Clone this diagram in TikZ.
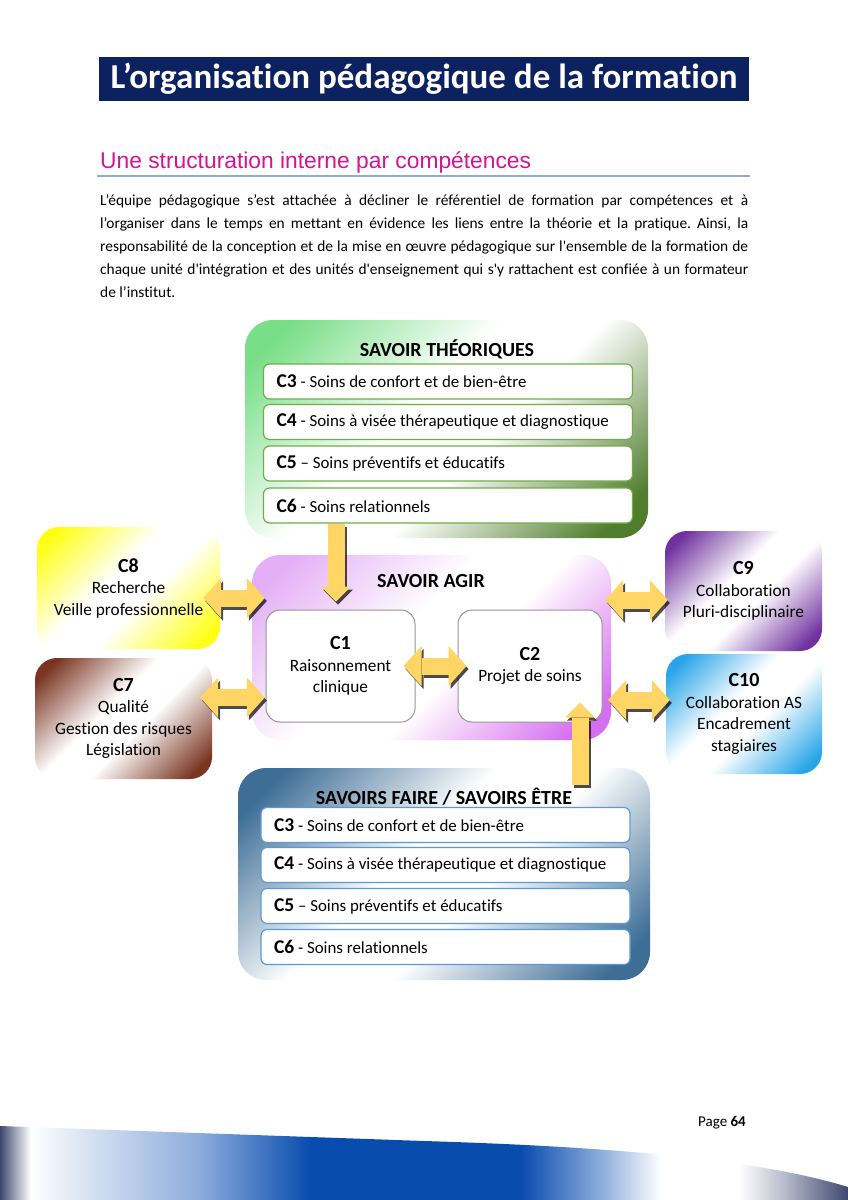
\documentclass[tikz,border=0pt]{standalone}
\usepackage{fontspec}
\setmainfont{Carlito}[Ligatures={TeXOff,NoCommon}]
\newfontfamily\headfont{Liberation Sans}
\usetikzlibrary{arrows.meta}
\frenchspacing

\definecolor{navy}{RGB}{12,33,96}
\definecolor{headpink}{RGB}{214,18,148}
\definecolor{ruleblue}{RGB}{142,170,219}
\definecolor{arrowyellow}{RGB}{255,214,102}
\definecolor{itemgreen}{RGB}{112,173,71}
\definecolor{itemblue}{RGB}{91,155,213}
\definecolor{framegray}{RGB}{150,150,150}
\definecolor{theoA}{RGB}{120,222,135}
\definecolor{theoB}{RGB}{80,125,45}
\definecolor{agirA}{RGB}{228,175,246}
\definecolor{agirB}{RGB}{214,110,240}
\definecolor{rechA}{RGB}{255,255,20}
\definecolor{qualA}{RGB}{122,52,32}
\definecolor{collA}{RGB}{112,48,160}
\definecolor{encaA}{RGB}{40,165,232}
\definecolor{faireA}{RGB}{62,110,150}
\definecolor{wavedark}{RGB}{62,72,110}
\definecolor{wavelight}{RGB}{220,230,244}
\definecolor{wavemid}{RGB}{140,172,220}
\definecolor{waveblue}{RGB}{8,76,174}
\definecolor{wavegray}{RGB}{190,194,208}

% diagonal fills: colour top left, white middle, colour bottom right
\newcommand\diagshade[3]{%
  \pgfdeclarehorizontalshading{#1}{100bp}{color(0bp)=(#2); color(20bp)=(#2);
    color(44bp)=(white); color(56bp)=(white); color(80bp)=(#3); color(100bp)=(#3)}}
\diagshade{theoshade}{theoA}{theoB}
\diagshade{agirshade}{agirA}{agirB}
\diagshade{rechshade}{rechA}{rechA}
\diagshade{qualshade}{qualA}{qualA}
\diagshade{collshade}{collA}{collA}
\diagshade{encashade}{encaA}{encaA}
\diagshade{faireshade}{faireA}{faireA}
\pgfdeclarehorizontalshading{waveshade}{100bp}{color(0bp)=(wavedark); color(25bp)=(wavedark);
  color(26.8bp)=(white); color(29.7bp)=(wavelight); color(36.8bp)=(wavemid); color(43.3bp)=(waveblue);
  color(55.7bp)=(waveblue); color(60.4bp)=(wavemid); color(64bp)=(white); color(68.6bp)=(white);
  color(71bp)=(wavegray); color(75bp)=(wavedark); color(100bp)=(wavedark)}

\newcommand\cnum[1]{{\fontsize{19.5}{19.5}\selectfont\bfseries #1}}
\newcommand\clab[1]{{\fontsize{20}{23}\selectfont\bfseries #1}}

\tikzset{
  titlebar/.style={fill=navy, text=white, minimum width=650pt, minimum height=44pt, font=\fontsize{35}{37}\selectfont\bfseries},
  zone/.style={shade, shading=#1, shading angle=-45, rounded corners=28pt, inner sep=0pt},
  zonetitle/.style={font=\fontsize{20}{22}\selectfont\bfseries, inner sep=0pt},
  itembox/.style={draw=#1, line width=1.2pt, fill=white, rounded corners=6pt, text width=343pt, inner xsep=13pt,
    minimum height=35pt, align=flush left, font=\fontsize{16.9}{19}\selectfont},
  corebox/.style={draw=framegray, line width=1pt, fill=white, rounded corners=14pt, align=flush center, font=\fontsize{17.3}{21.5}\selectfont},
  sidebox/.style={shade, shading=#1, shading angle=-45, rounded corners=22pt, align=flush center, font=\fontsize{17.3}{21.5}\selectfont},
  blockarrow/.style={line width=17pt, draw=#1},
  dbl/.style={{Triangle[width=40pt,length=18pt,line width=0pt]}-{Triangle[width=40pt,length=18pt,line width=0pt]}},
  sgl/.style={-{Triangle[width=30pt,length=15pt,line width=0pt]}}
}

\begin{document}
\begin{tikzpicture}[x=1pt,y=-1pt]
\fill[white] (0,0) rectangle (848,1200);
% page head
\node[titlebar] (title) at (424,79) {L’organisation pédagogique de la formation};
\node[anchor=base west, inner sep=0pt, text=headpink, font=\headfont\fontsize{22.8}{26}\selectfont] (sub) at (100,168) {Une structuration interne par compétences};
\draw[ruleblue, line width=2pt] (97,176) -- (750,176);
\node[anchor=north west, text width=648pt, align=justify, inner sep=0pt, font=\fontsize{15.4}{23}\selectfont] (intro) at (100,194)
  {L’équipe pédagogique s’est attachée à décliner le référentiel de formation par compétences et à\linebreak
   l’organiser dans le temps en mettant en évidence les liens entre la théorie et la pratique. Ainsi, la\linebreak
   responsabilité de la conception et de la mise en œuvre pédagogique sur l'ensemble de la formation de\linebreak
   chaque unité d'intégration et des unités d'enseignement qui s'y rattachent est confiée à un formateur\linebreak
   de l’institut.};

% the three zones
\node[zone=theoshade, minimum width=403pt, minimum height=218pt] (theo) at (446.5,429) {};
\node[zone=agirshade, minimum width=359pt, minimum height=185pt] (agir) at (431.5,647.5) {};
\node[zone=faireshade, minimum width=412pt, minimum height=212pt] (faire) at (444,874) {};
\node[zonetitle] (theoT) at (447,349) {SAVOIR THÉORIQUES};
\node[zonetitle] (agirT) at (431,581) {SAVOIR AGIR};
\node[zonetitle] (faireT) at (444,797) {SAVOIRS FAIRE / SAVOIRS ÊTRE};

% side competences
\node[sidebox=rechshade, minimum width=183pt, minimum height=122pt] (c8) at (128.5,588) {\clab{C8}\\Recherche\\Veille professionnelle};
\node[sidebox=qualshade, minimum width=177pt, minimum height=121pt] (c7) at (123.5,718.5) {\clab{C7}\\Qualité\\Gestion des risques\\Législation};
\node[sidebox=collshade, minimum width=157pt, minimum height=120pt] (c9) at (743.5,591) {\clab{C9}\\Collaboration\\Pluri-disciplinaire};
\node[sidebox=encashade, minimum width=156pt, minimum height=120pt] (c10) at (744,714) {\clab{C10}\\Collaboration AS\\Encadrement\\stagiaires};

% lists
\foreach \n/\y/\txt in {3/381.5/{- Soins de confort et de bien-être}, 4/422/{- Soins à visée thérapeutique et diagnostique},
    5/463.5/{– Soins préventifs et éducatifs}, 6/505.5/{- Soins relationnels}}
  \node[itembox=itemgreen] (t\n) at (448,\y) {\cnum{C\n} \txt};
\foreach \n/\y/\txt in {3/825/{- Soins de confort et de bien-être}, 4/865/{- Soins à visée thérapeutique et diagnostique},
    5/906/{– Soins préventifs et éducatifs}, 6/947/{- Soins relationnels}}
  \node[itembox=itemblue] (f\n) at (445.5,\y) {\cnum{C\n} \txt};

% savoir agir
\node[corebox, minimum width=149pt, minimum height=112pt] (c1) at (340.5,666) {\clab{C1}\\Raisonnement\\clinique};
\node[corebox, minimum width=144pt, minimum height=112pt] (c2) at (530,666) {\clab{C2}\\Projet de soins};

% yellow arrows, shadow first
\foreach \dx/\dy/\col/\op in {2/-3/black/0.7, 0/0/arrowyellow/1} {
  \begin{scope}[transform canvas={shift={(\dx pt,\dy pt)}}]
    \draw[blockarrow=\col, opacity=\op, dbl, shorten <=-17pt, shorten >=-13pt] ([yshift=-10pt]c8.east) -- ([yshift=-10pt]c8.east -| agir.west);
    \draw[blockarrow=\col, opacity=\op, dbl, shorten <=-12pt, shorten >=-13pt] ([yshift=21pt]c7.east) -- ([yshift=21pt]c7.east -| agir.west);
    \draw[blockarrow=\col, opacity=\op, dbl, shorten <=-6pt, shorten >=-3pt] ([yshift=-9pt]c9.west -| agir.east) -- ([yshift=-9pt]c9.west);
    \draw[blockarrow=\col, opacity=\op, dbl, shorten <=-3pt, shorten >=-4pt] ([yshift=14pt]c10.west -| agir.east) -- ([yshift=14pt]c10.west);
    \draw[blockarrow=\col, opacity=\op, dbl, shorten <=-12pt, shorten >=-9pt] (c1.east) -- (c2.west);
    \draw[blockarrow=\col, opacity=\op, sgl] ([xshift=-4.5pt]c1.north |- t6.south) -- ([xshift=-4.5pt,yshift=8pt]c1.north);
    \draw[blockarrow=\col, opacity=\op, sgl] ([xshift=50pt,yshift=-17pt]c2.south |- faire.north) -- ([xshift=50pt,yshift=20pt]c2.south);
  \end{scope}
}

% page foot
\shade[shading=waveshade] (0,1126) -- (424,1141) .. controls (620,1147) and (760,1160) .. (848,1187) -- (848,1200) -- (0,1200) -- cycle;
\node[anchor=base east, inner sep=0pt, font=\fontsize{15}{17}\selectfont] (page) at (746,1126) {Page \textbf{64}};
\end{tikzpicture}
\end{document}
